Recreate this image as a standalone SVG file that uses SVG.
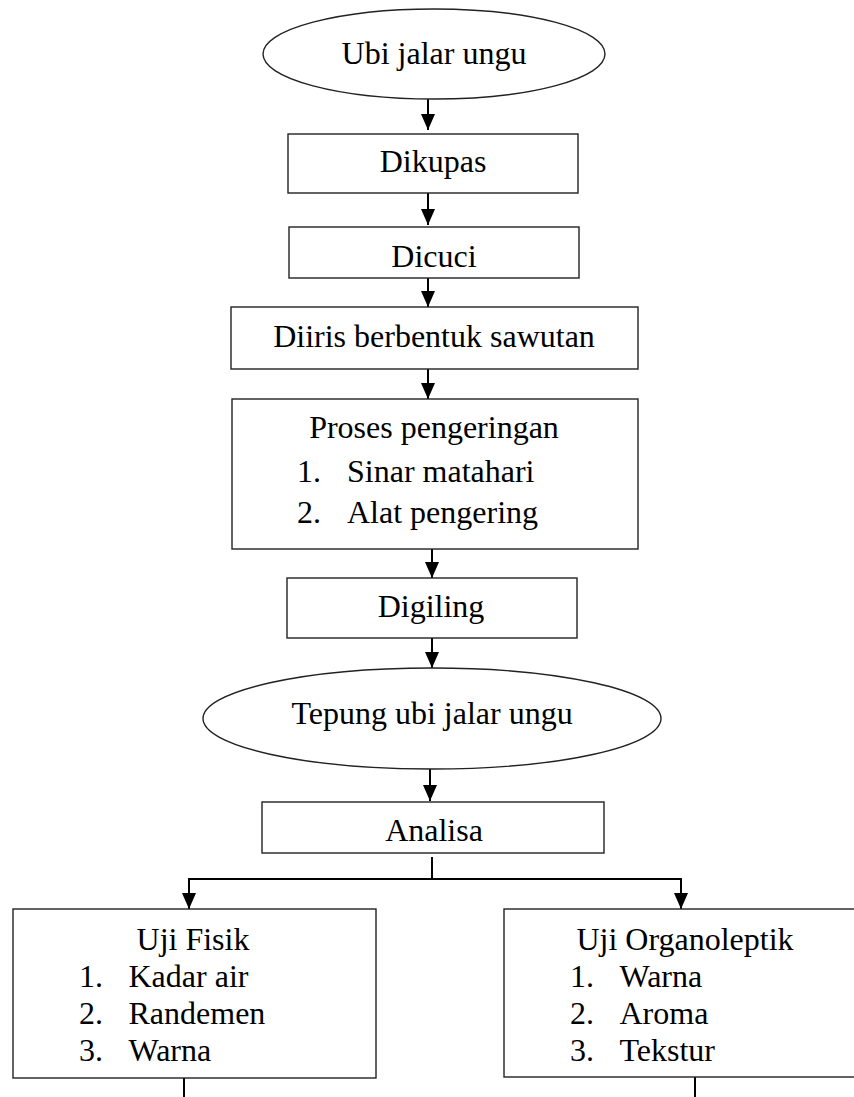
<svg xmlns="http://www.w3.org/2000/svg" width="854" height="1097" viewBox="0 0 854 1097">
<style>
.box{fill:#fff;stroke:#222;stroke-width:1.4}
.ln{fill:none;stroke:#000;stroke-width:2}
.c{text-anchor:middle}
</style>
<defs>
<marker id="ah" markerUnits="userSpaceOnUse" markerWidth="16" markerHeight="14" refX="16" refY="7" orient="auto">
<path d="M0,0 L16,7 L0,14 z" fill="#000"/>
</marker>
</defs>
<rect width="854" height="1097" fill="#fff"/>
<g id="connectors">
<line class="ln" x1="428" y1="99" x2="428" y2="130" marker-end="url(#ah)"/>
<line class="ln" x1="428" y1="193" x2="428" y2="225" marker-end="url(#ah)"/>
<line class="ln" x1="428" y1="278" x2="428" y2="307" marker-end="url(#ah)"/>
<line class="ln" x1="428" y1="369" x2="428" y2="399" marker-end="url(#ah)"/>
<line class="ln" x1="432" y1="549" x2="432" y2="578" marker-end="url(#ah)"/>
<line class="ln" x1="432" y1="638" x2="432" y2="668" marker-end="url(#ah)"/>
<line class="ln" x1="430" y1="769" x2="430" y2="801" marker-end="url(#ah)"/>
<line class="ln" x1="432" y1="857" x2="432" y2="879"/>
<polyline class="ln" points="189,879 681,879"/>
<line class="ln" x1="189" y1="878" x2="189" y2="909" marker-end="url(#ah)"/>
<line class="ln" x1="681" y1="878" x2="681" y2="909" marker-end="url(#ah)"/>
<line class="ln" x1="184" y1="1078" x2="184" y2="1097"/>
<line class="ln" x1="695" y1="1077" x2="695" y2="1097"/>
</g>
<g font-family="Liberation Serif" font-size="32" fill="#000">
<g id="n-ubi">
<ellipse class="box" cx="434" cy="54" rx="171" ry="45"/>
<text class="c" x="434" y="64">Ubi jalar ungu</text>
</g>
<g id="n-dikupas">
<rect class="box" x="288" y="134" width="290" height="59"/>
<text class="c" x="433" y="172">Dikupas</text>
</g>
<g id="n-dicuci">
<rect class="box" x="289" y="227" width="290" height="51"/>
<text class="c" x="434" y="267">Dicuci</text>
</g>
<g id="n-diiris">
<rect class="box" x="231" y="307" width="407" height="62"/>
<text class="c" x="434" y="347">Diiris berbentuk sawutan</text>
</g>
<g id="n-proses">
<rect class="box" x="232" y="399" width="406" height="150"/>
<text class="c" x="434" y="438">Proses pengeringan</text>
<text x="297" y="482">1.</text><text x="347" y="482">Sinar matahari</text>
<text x="297" y="523">2.</text><text x="347" y="523">Alat pengering</text>
</g>
<g id="n-digiling">
<rect class="box" x="287" y="578" width="290" height="60"/>
<text class="c" x="431" y="617">Digiling</text>
</g>
<g id="n-tepung">
<ellipse class="box" cx="432" cy="718.5" rx="229" ry="50.5"/>
<text class="c" x="432" y="724">Tepung ubi jalar ungu</text>
</g>
<g id="n-analisa">
<rect class="box" x="262" y="802" width="342" height="51"/>
<text class="c" x="434" y="841">Analisa</text>
</g>
<g id="n-fisik">
<rect class="box" x="13" y="909" width="363" height="169"/>
<text class="c" x="193" y="950">Uji Fisik</text>
<text x="79" y="987">1.</text><text x="128.5" y="987">Kadar air</text>
<text x="79" y="1024">2.</text><text x="128.5" y="1024">Randemen</text>
<text x="79" y="1061">3.</text><text x="128.5" y="1061">Warna</text>
</g>
<g id="n-organoleptik">
<rect class="box" x="504" y="909" width="400" height="168"/>
<text class="c" x="685" y="950">Uji Organoleptik</text>
<text x="570" y="987">1.</text><text x="619.5" y="987">Warna</text>
<text x="570" y="1024">2.</text><text x="619.5" y="1024">Aroma</text>
<text x="570" y="1061">3.</text><text x="619.5" y="1061">Tekstur</text>
</g>
</g>
</svg>
